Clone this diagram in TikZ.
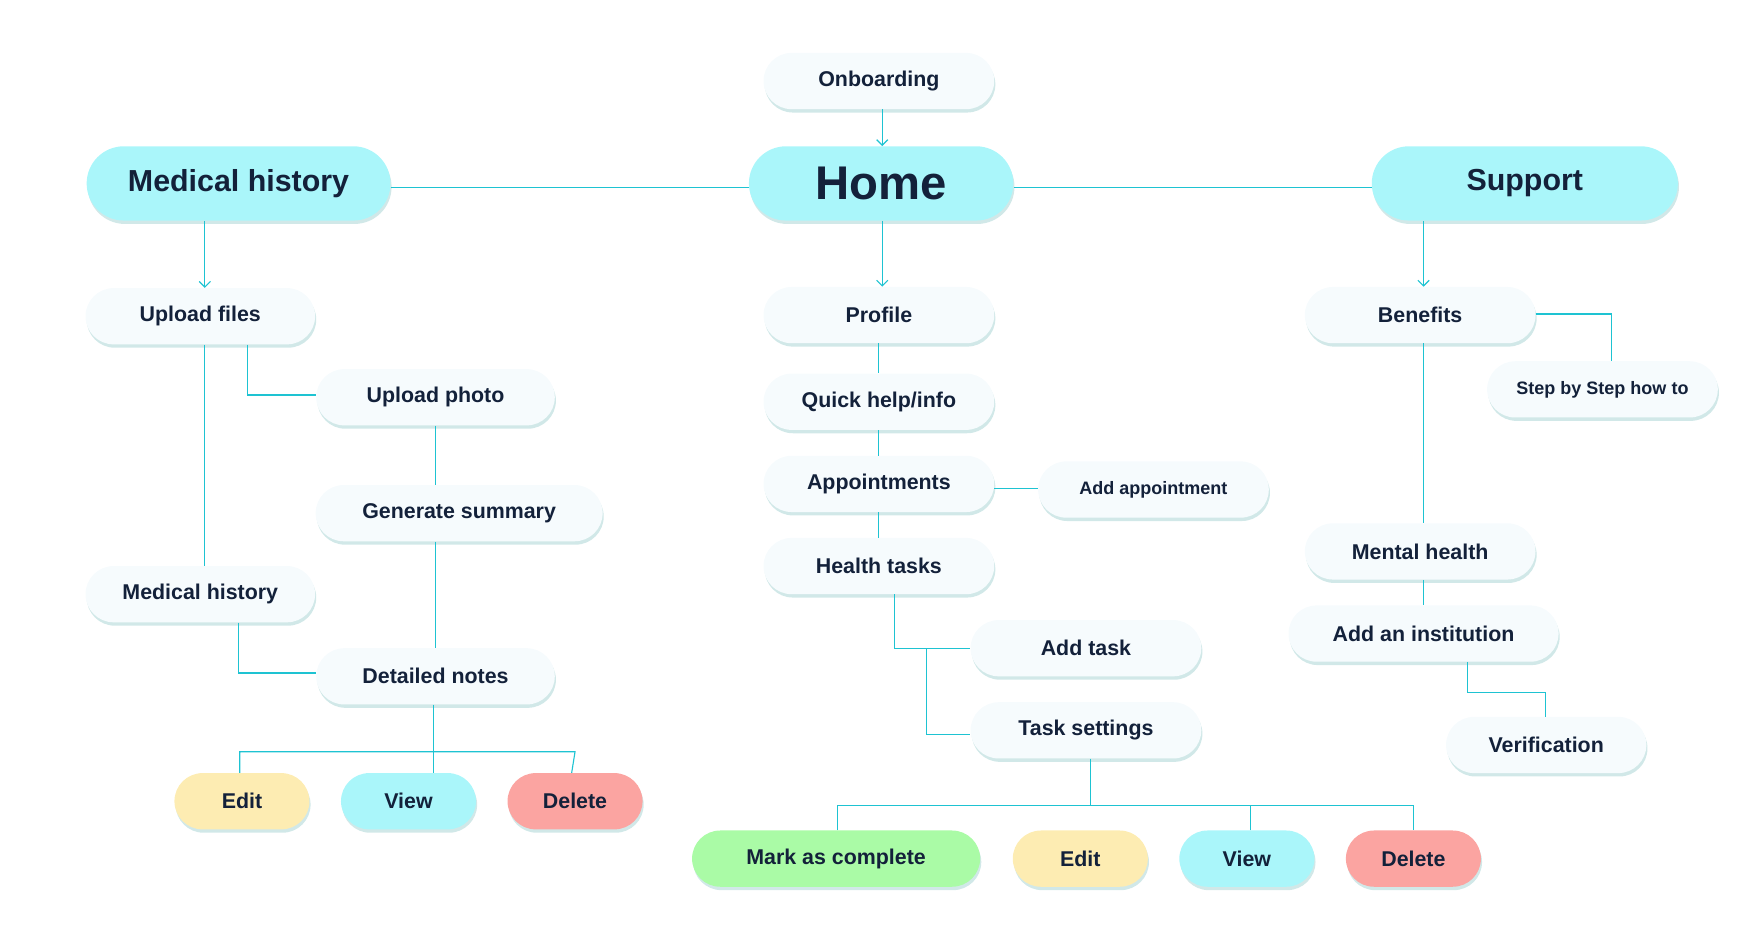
\documentclass[tikz,border=0pt]{standalone}
\usepackage{fontspec}
\setmainfont{Liberation Sans}
\usetikzlibrary{shadows,arrows.meta}
\definecolor{linec}{HTML}{1EC3D2}
\definecolor{pale}{HTML}{F6FBFD}
\definecolor{aqua}{HTML}{AAF6FA}
\definecolor{sand}{HTML}{FDECB2}
\definecolor{rose}{HTML}{FBA4A1}
\definecolor{mint}{HTML}{AAFBA6}
\definecolor{ink}{HTML}{13213A}
\tikzset{
  box/.style={rounded corners=25pt, fill=pale, minimum height=50pt, text=ink,
    font=\fontsize{19}{22}\selectfont\bfseries,
    drop shadow={shadow xshift=1pt, shadow yshift=-3pt, opacity=0.18, fill=teal}},
  main/.style={box, fill=aqua, rounded corners=33pt, minimum height=66pt},
  small/.style={box, font=\fontsize{16}{19}\selectfont\bfseries},
  link/.style={linec, line width=1pt},
  arr/.style={link, -{Straight Barb[length=5pt,width=10pt]}}
}
\begin{document}
\begin{tikzpicture}[x=1pt, y=-1pt]
    \useasboundingbox (0,0) rectangle (1564,832);
    % Top level
    \node[box, minimum width=205pt] (onb) at (781,72) {Onboarding};
    \node[main, minimum width=235pt, font=\fontsize{42}{48}\selectfont\bfseries] (home) at (783,163) {Home};
    \node[main, minimum width=270pt, font=\fontsize{27}{32}\selectfont\bfseries] (medh) at (212,163) {Medical history};
    \node[main, minimum width=272pt, font=\fontsize{27}{32}\selectfont\bfseries] (supp) at (1355,163) {Support};

    % Medical history branch
    \node[box, minimum width=204pt] (upf) at (178,281) {Upload files};
    \node[box, minimum width=212pt] (upp) at (387,353) {Upload photo};
    \node[box, minimum width=255pt] (gens) at (408,456) {Generate summary};
    \node[box, minimum width=204pt] (medh2) at (178,528) {Medical history};
    \node[box, minimum width=212pt] (notes) at (387,601) {Detailed notes};
    \node[box, fill=sand, minimum width=120pt] (nedit) at (215,712) {Edit};
    \node[box, fill=aqua, minimum width=120pt] (nview) at (363,712) {View};
    \node[box, fill=rose, minimum width=120pt] (ndel) at (511,712) {Delete};

    % Home branch
    \node[box, minimum width=205pt] (prof) at (781,280) {Profile};
    \node[box, minimum width=205pt] (quick) at (781,357) {Quick help/info};
    \node[box, minimum width=205pt] (appt) at (781,430) {Appointments};
    \node[small, minimum width=205pt] (addappt) at (1025,435) {Add appointment};
    \node[box, minimum width=205pt] (tasks) at (781,503) {Health tasks};
    \node[box, minimum width=205pt] (addt) at (965,576) {Add task};
    \node[box, minimum width=205pt] (tset) at (965,649) {Task settings};
    \node[box, fill=mint, minimum width=256pt] (done) at (743,763) {Mark as complete};
    \node[box, fill=sand, minimum width=120pt] (tedit) at (960,763) {Edit};
    \node[box, fill=aqua, minimum width=120pt] (tview) at (1108,763) {View};
    \node[box, fill=rose, minimum width=120pt] (tdel) at (1256,763) {Delete};

    % Support branch
    \node[box, minimum width=205pt] (ben) at (1262,280) {Benefits};
    \node[small, minimum width=205pt] (steps) at (1424,346) {Step by Step how to};
    \node[box, minimum width=205pt] (ment) at (1262,490) {Mental health};
    \node[box, minimum width=240pt] (inst) at (1265,563) {Add an institution};
    \node[box, minimum width=178pt] (verif) at (1374,662) {Verification};

    % Connectors
    \draw[arr] (onb.south -| 784,0) -- (home.north -| 784,0);
    \draw[link] (medh.east |- 0,167) -- (home.west |- 0,167);
    \draw[link] (home.east |- 0,167) -- (supp.west |- 0,167);
    \draw[arr] (medh.south -| 182,0) -- (upf.north -| 182,0);
    \draw[arr] (home.south -| 784,0) -- (prof.north -| 784,0);
    \draw[arr] (supp.south -| 1265,0) -- (ben.north -| 1265,0);

    \draw[link] (upf.south -| 182,0) -- (medh2.north -| 182,0);
    \draw[link] (upf.south -| 220,0) |- (upp.west |- 0,351);
    \draw[link] (upp.south -| 387,0) -- (gens.north -| 387,0);
    \draw[link] (gens.south -| 387,0) -- (notes.north -| 387,0);
    \draw[link] (medh2.south -| 212,0) |- (notes.west |- 0,598);
    \draw[link] (notes.south -| 385,0) -- (385,668);
    \draw[link] (nedit.north -| 213,0) |- (ndel.north |- 0,668) -- (ndel.north -| 508,0);
    \draw[link] (nview.north -| 385,0) -- (385,668);

    \draw[link] (prof) -- (quick);
    \draw[link] (quick) -- (appt);
    \draw[link] (appt) -- (tasks);
    \draw[link] (appt.east |- 0,434) -- (addappt.west |- 0,434);
    \draw[link] (tasks.south -| 795,0) |- (addt.west |- 0,576);
    \draw[link] (823,576) |- (tset.west |- 0,653);
    \draw[link] (tset.south -| 969,0) -- (969,716);
    \draw[link] (done.north -| 744,0) |- (tdel.north |- 0,716) -- (tdel.north -| 1256,0);
    \draw[link] (tview.north -| 1111,0) -- (1111,716);

    \draw[link] (ben.east |- 0,279) -| (steps.north -| 1432,0);
    \draw[link] (ben.south -| 1265,0) -- (ment.north -| 1265,0);
    \draw[link] (ment.south -| 1265,0) -- (inst.north -| 1265,0);
    \draw[link] (inst.south -| 1304,0) |- (1373,615) -- (verif.north -| 1373,0);
\end{tikzpicture}
\end{document}
